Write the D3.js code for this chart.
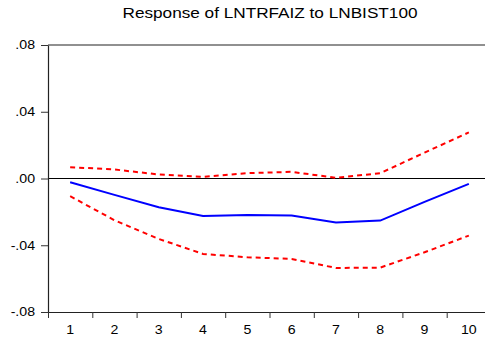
<!DOCTYPE html>
<html>
<head>
<meta charset="utf-8">
<script src="https://cdn.jsdelivr.net/npm/d3@7"></script>
<style>
  body { margin: 0; background: #fff; }
  svg { display: block; font-family: "Liberation Sans", Arial, sans-serif; }
</style>
</head>
<body>
<div id="main"></div>
<script>
// periods and impulse response values
var periods = [1, 2, 3, 4, 5, 6, 7, 8, 9, 10];
var response = [-0.0022, -0.0098, -0.0172, -0.0224, -0.0218, -0.0222, -0.0264, -0.0252, -0.0140, -0.0032];
var upperBand = [0.0068, 0.0054, 0.0024, 0.0010, 0.0032, 0.0040, 0.0004, 0.0032, 0.0155, 0.0276];
var lowerBand = [-0.0106, -0.0250, -0.0362, -0.0452, -0.0472, -0.0482, -0.0536, -0.0534, -0.0442, -0.0342];
var yTicks = [0.08, 0.04, 0.00, -0.04, -0.08];
var yTickLabels = ['.08', '.04', '.00', '-.04', '-.08'];

var width = 485, height = 340;
var plotLeft = 48, plotTop = 45, plotBottom = 312, plotRight = 491;
var stretch = 1.18; // the original text is a bit wider than Arial

var svg = d3.select('#main').append('svg')
  .attr('width', width)
  .attr('height', height);

var x = d3.scaleBand().domain(periods).range([plotLeft, plotRight]);
var xEdge = d3.scaleLinear().domain([0.5, 10.5]).range([plotLeft, plotRight]);
var y = d3.scaleLinear().domain([-0.08, 0.08]).range([plotBottom, plotTop]);

// title
svg.append('text')
  .attr('x', 270).attr('y', 18)
  .attr('text-anchor', 'middle')
  .attr('textLength', 295)
  .attr('lengthAdjust', 'spacingAndGlyphs')
  .style('font-size', '15px')
  .text('Response of LNTRFAIZ to LNBIST100');

// top frame line
svg.append('line')
  .attr('x1', plotLeft).attr('x2', width)
  .attr('y1', y(0.08)).attr('y2', y(0.08))
  .attr('stroke', '#222').attr('stroke-width', 1.2);

// zero line
svg.append('line')
  .attr('x1', plotLeft).attr('x2', width)
  .attr('y1', y(0)).attr('y2', y(0))
  .attr('stroke', '#000').attr('stroke-width', 1);

// y axis
var yAxis = svg.append('g')
  .attr('transform', 'translate(' + plotLeft + ',0)')
  .call(d3.axisLeft(y).tickValues(yTicks).tickSize(7).tickSizeOuter(0)
    .tickFormat(function(d, i) { return yTickLabels[i]; }));
yAxis.selectAll('text').style('font-size', '12px').attr('fill', '#000')
  .attr('x', -13 / stretch).attr('transform', 'scale(' + stretch + ',1)');
yAxis.selectAll('line').attr('stroke', '#333');
yAxis.select('.domain').attr('stroke', '#222').attr('stroke-width', 1.2);

// x axis: ticks at period edges, labels in the middle
var xTickG = svg.append('g')
  .attr('transform', 'translate(0,' + plotBottom + ')')
  .call(d3.axisBottom(xEdge).tickValues(d3.range(0.5, 10.5, 1)).tickSize(6).tickSizeOuter(0).tickFormat(''));
xTickG.select('.domain').attr('stroke', '#222').attr('stroke-width', 1.2);
xTickG.selectAll('line').attr('stroke', '#333');

var xLab = svg.append('g')
  .attr('transform', 'translate(0,' + plotBottom + ')')
  .call(d3.axisBottom(x).tickSize(0));
xLab.select('.domain').remove();
xLab.selectAll('text').style('font-size', '12px').attr('fill', '#000')
  .attr('dy', '1.0em').attr('y', 10).attr('transform', 'scale(' + stretch + ',1)');

var line = d3.line()
  .x(function(d, i) { return x(periods[i]) + x.bandwidth() / 2; })
  .y(function(d) { return y(d); });

svg.append('path').datum(upperBand)
  .attr('d', line).attr('fill', 'none')
  .attr('stroke', '#ff0000').attr('stroke-width', 2).attr('stroke-dasharray', '5,4');
svg.append('path').datum(lowerBand)
  .attr('d', line).attr('fill', 'none')
  .attr('stroke', '#ff0000').attr('stroke-width', 2).attr('stroke-dasharray', '5,4');
svg.append('path').datum(response)
  .attr('d', line).attr('fill', 'none')
  .attr('stroke', '#0000ff').attr('stroke-width', 2);
</script>
</body>
</html>
